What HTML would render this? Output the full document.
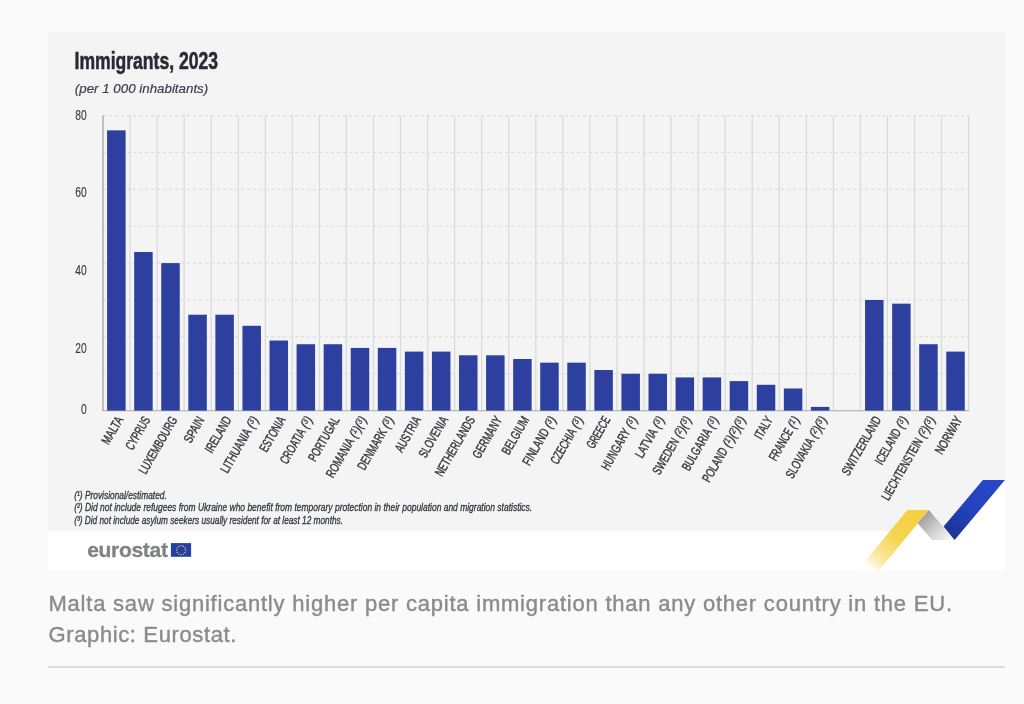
<!DOCTYPE html>
<html lang="en"><head><meta charset="utf-8"><title>Immigrants, 2023</title>
<style>
html,body{margin:0;padding:0;}
body{width:1024px;height:704px;position:relative;overflow:hidden;background:#fafafa;font-family:"Liberation Sans",sans-serif;}
svg text{font-family:"Liberation Sans",sans-serif;}
.cap{position:absolute;left:48.5px;top:589.1px;width:960px;margin:0;font-size:22px;line-height:30.8px;color:#8b8b8b;white-space:nowrap;letter-spacing:0.75px;-webkit-text-stroke:0.4px #8b8b8b;}
.rule{position:absolute;left:48px;top:666.4px;width:957px;height:1.2px;background:#dcdcdc;}
</style></head><body>
<svg width="1024" height="704" viewBox="0 0 1024 704" style="position:absolute;left:0;top:0">
<defs><linearGradient id="gy" x1="918" y1="510" x2="869" y2="569.5" gradientUnits="userSpaceOnUse"><stop offset="0" stop-color="#f5d044"/><stop offset="0.45" stop-color="#f6d34f"/><stop offset="0.8" stop-color="#fbe9a3"/><stop offset="1" stop-color="#ffffff"/></linearGradient><linearGradient id="gg" x1="922" y1="515" x2="946" y2="541" gradientUnits="userSpaceOnUse"><stop offset="0" stop-color="#9b9b9d"/><stop offset="0.5" stop-color="#cbcbcd"/><stop offset="1" stop-color="#f3f3f3"/></linearGradient><linearGradient id="gb" x1="994" y1="480" x2="950" y2="534" gradientUnits="userSpaceOnUse"><stop offset="0" stop-color="#2547c8"/><stop offset="0.55" stop-color="#2342bc"/><stop offset="1" stop-color="#1b3496"/></linearGradient></defs>
<rect x="48" y="32" width="957.6" height="538.2" fill="#f4f4f4"/>
<rect x="48" y="531" width="957.6" height="39.2" fill="#ffffff"/>
<polygon points="905,531.5 918.5,514 931,531.5" fill="#ffffff"/>
<polygon points="1005.6,479.6 1005.6,531.5 961,531.5" fill="#ffffff"/>
<line x1="103.0" x2="968.60" y1="373.73" y2="373.73" stroke="#dcdcdc" stroke-width="1.2" stroke-dasharray="3.2 2.8"/>
<line x1="103.0" x2="968.60" y1="336.85" y2="336.85" stroke="#dcdcdc" stroke-width="1.2" stroke-dasharray="3.2 2.8"/>
<line x1="103.0" x2="968.60" y1="299.98" y2="299.98" stroke="#dcdcdc" stroke-width="1.2" stroke-dasharray="3.2 2.8"/>
<line x1="103.0" x2="968.60" y1="263.10" y2="263.10" stroke="#dcdcdc" stroke-width="1.2" stroke-dasharray="3.2 2.8"/>
<line x1="103.0" x2="968.60" y1="226.23" y2="226.23" stroke="#dcdcdc" stroke-width="1.2" stroke-dasharray="3.2 2.8"/>
<line x1="103.0" x2="968.60" y1="189.35" y2="189.35" stroke="#dcdcdc" stroke-width="1.2" stroke-dasharray="3.2 2.8"/>
<line x1="103.0" x2="968.60" y1="152.48" y2="152.48" stroke="#dcdcdc" stroke-width="1.2" stroke-dasharray="3.2 2.8"/>
<line x1="103.0" x2="968.60" y1="115.60" y2="115.60" stroke="#dcdcdc" stroke-width="1.2" stroke-dasharray="3.2 2.8"/>
<line x1="130.05" x2="130.05" y1="115.60" y2="410.60" stroke="#d9d9d9" stroke-width="1.2"/>
<line x1="157.10" x2="157.10" y1="115.60" y2="410.60" stroke="#d9d9d9" stroke-width="1.2"/>
<line x1="184.15" x2="184.15" y1="115.60" y2="410.60" stroke="#d9d9d9" stroke-width="1.2"/>
<line x1="211.20" x2="211.20" y1="115.60" y2="410.60" stroke="#d9d9d9" stroke-width="1.2"/>
<line x1="238.25" x2="238.25" y1="115.60" y2="410.60" stroke="#d9d9d9" stroke-width="1.2"/>
<line x1="265.30" x2="265.30" y1="115.60" y2="410.60" stroke="#d9d9d9" stroke-width="1.2"/>
<line x1="292.35" x2="292.35" y1="115.60" y2="410.60" stroke="#d9d9d9" stroke-width="1.2"/>
<line x1="319.40" x2="319.40" y1="115.60" y2="410.60" stroke="#d9d9d9" stroke-width="1.2"/>
<line x1="346.45" x2="346.45" y1="115.60" y2="410.60" stroke="#d9d9d9" stroke-width="1.2"/>
<line x1="373.50" x2="373.50" y1="115.60" y2="410.60" stroke="#d9d9d9" stroke-width="1.2"/>
<line x1="400.55" x2="400.55" y1="115.60" y2="410.60" stroke="#d9d9d9" stroke-width="1.2"/>
<line x1="427.60" x2="427.60" y1="115.60" y2="410.60" stroke="#d9d9d9" stroke-width="1.2"/>
<line x1="454.65" x2="454.65" y1="115.60" y2="410.60" stroke="#d9d9d9" stroke-width="1.2"/>
<line x1="481.70" x2="481.70" y1="115.60" y2="410.60" stroke="#d9d9d9" stroke-width="1.2"/>
<line x1="508.75" x2="508.75" y1="115.60" y2="410.60" stroke="#d9d9d9" stroke-width="1.2"/>
<line x1="535.80" x2="535.80" y1="115.60" y2="410.60" stroke="#d9d9d9" stroke-width="1.2"/>
<line x1="562.85" x2="562.85" y1="115.60" y2="410.60" stroke="#d9d9d9" stroke-width="1.2"/>
<line x1="589.90" x2="589.90" y1="115.60" y2="410.60" stroke="#d9d9d9" stroke-width="1.2"/>
<line x1="616.95" x2="616.95" y1="115.60" y2="410.60" stroke="#d9d9d9" stroke-width="1.2"/>
<line x1="644.00" x2="644.00" y1="115.60" y2="410.60" stroke="#d9d9d9" stroke-width="1.2"/>
<line x1="671.05" x2="671.05" y1="115.60" y2="410.60" stroke="#d9d9d9" stroke-width="1.2"/>
<line x1="698.10" x2="698.10" y1="115.60" y2="410.60" stroke="#d9d9d9" stroke-width="1.2"/>
<line x1="725.15" x2="725.15" y1="115.60" y2="410.60" stroke="#d9d9d9" stroke-width="1.2"/>
<line x1="752.20" x2="752.20" y1="115.60" y2="410.60" stroke="#d9d9d9" stroke-width="1.2"/>
<line x1="779.25" x2="779.25" y1="115.60" y2="410.60" stroke="#d9d9d9" stroke-width="1.2"/>
<line x1="806.30" x2="806.30" y1="115.60" y2="410.60" stroke="#d9d9d9" stroke-width="1.2"/>
<line x1="833.35" x2="833.35" y1="115.60" y2="410.60" stroke="#d9d9d9" stroke-width="1.2"/>
<line x1="860.40" x2="860.40" y1="115.60" y2="410.60" stroke="#d9d9d9" stroke-width="1.2"/>
<line x1="887.45" x2="887.45" y1="115.60" y2="410.60" stroke="#d9d9d9" stroke-width="1.2"/>
<line x1="914.50" x2="914.50" y1="115.60" y2="410.60" stroke="#d9d9d9" stroke-width="1.2"/>
<line x1="941.55" x2="941.55" y1="115.60" y2="410.60" stroke="#d9d9d9" stroke-width="1.2"/>
<line x1="968.60" x2="968.60" y1="115.60" y2="410.60" stroke="#d9d9d9" stroke-width="1.2"/>
<line x1="103.0" x2="103.0" y1="115.60" y2="411.10" stroke="#9a9a9a" stroke-width="1.2"/>
<line x1="102.4" x2="969.10" y1="410.70" y2="410.70" stroke="#a8a8a8" stroke-width="1.1"/>
<rect x="107.10" y="130.35" width="18.5" height="280.25" fill="#2e409f"/>
<rect x="134.17" y="252.04" width="18.5" height="158.56" fill="#2e409f"/>
<rect x="161.24" y="263.10" width="18.5" height="147.50" fill="#2e409f"/>
<rect x="188.31" y="314.73" width="18.5" height="95.88" fill="#2e409f"/>
<rect x="215.38" y="314.73" width="18.5" height="95.88" fill="#2e409f"/>
<rect x="242.45" y="325.79" width="18.5" height="84.81" fill="#2e409f"/>
<rect x="269.52" y="340.54" width="18.5" height="70.06" fill="#2e409f"/>
<rect x="296.59" y="344.23" width="18.5" height="66.38" fill="#2e409f"/>
<rect x="323.66" y="344.23" width="18.5" height="66.38" fill="#2e409f"/>
<rect x="350.73" y="347.91" width="18.5" height="62.69" fill="#2e409f"/>
<rect x="377.80" y="347.91" width="18.5" height="62.69" fill="#2e409f"/>
<rect x="404.87" y="351.60" width="18.5" height="59.00" fill="#2e409f"/>
<rect x="431.94" y="351.60" width="18.5" height="59.00" fill="#2e409f"/>
<rect x="459.01" y="355.29" width="18.5" height="55.31" fill="#2e409f"/>
<rect x="486.08" y="355.29" width="18.5" height="55.31" fill="#2e409f"/>
<rect x="513.15" y="358.98" width="18.5" height="51.62" fill="#2e409f"/>
<rect x="540.22" y="362.66" width="18.5" height="47.94" fill="#2e409f"/>
<rect x="567.29" y="362.66" width="18.5" height="47.94" fill="#2e409f"/>
<rect x="594.36" y="370.04" width="18.5" height="40.56" fill="#2e409f"/>
<rect x="621.43" y="373.73" width="18.5" height="36.88" fill="#2e409f"/>
<rect x="648.50" y="373.73" width="18.5" height="36.88" fill="#2e409f"/>
<rect x="675.57" y="377.41" width="18.5" height="33.19" fill="#2e409f"/>
<rect x="702.64" y="377.41" width="18.5" height="33.19" fill="#2e409f"/>
<rect x="729.71" y="381.10" width="18.5" height="29.50" fill="#2e409f"/>
<rect x="756.78" y="384.79" width="18.5" height="25.81" fill="#2e409f"/>
<rect x="783.85" y="388.48" width="18.5" height="22.12" fill="#2e409f"/>
<rect x="810.92" y="406.91" width="18.5" height="3.69" fill="#2e409f"/>
<rect x="865.06" y="299.98" width="18.5" height="110.62" fill="#2e409f"/>
<rect x="892.13" y="303.66" width="18.5" height="106.94" fill="#2e409f"/>
<rect x="919.20" y="344.23" width="18.5" height="66.38" fill="#2e409f"/>
<rect x="946.27" y="351.60" width="18.5" height="59.00" fill="#2e409f"/>
<text x="86.6" y="119.8" text-anchor="end" font-size="14.6" fill="#3c3c40" stroke="#3c3c40" stroke-width="0.15" textLength="11.4" lengthAdjust="spacingAndGlyphs">80</text>
<text x="86.6" y="197.2" text-anchor="end" font-size="14.6" fill="#3c3c40" stroke="#3c3c40" stroke-width="0.15" textLength="11.4" lengthAdjust="spacingAndGlyphs">60</text>
<text x="86.6" y="275.1" text-anchor="end" font-size="14.6" fill="#3c3c40" stroke="#3c3c40" stroke-width="0.15" textLength="11.4" lengthAdjust="spacingAndGlyphs">40</text>
<text x="86.6" y="352.5" text-anchor="end" font-size="14.6" fill="#3c3c40" stroke="#3c3c40" stroke-width="0.15" textLength="11.4" lengthAdjust="spacingAndGlyphs">20</text>
<text x="86.6" y="414.45" text-anchor="end" font-size="14.6" fill="#3c3c40" stroke="#3c3c40" stroke-width="0.15" textLength="5.7" lengthAdjust="spacingAndGlyphs">0</text>
<g transform="translate(123.55,419.60) rotate(-60)" font-size="13.0" text-anchor="end">
<text x="0.00" y="0" fill="#37383d" stroke="#37383d" stroke-width="0.42" textLength="29.9" lengthAdjust="spacingAndGlyphs">MALTA</text>
</g>
<g transform="translate(150.62,419.60) rotate(-60)" font-size="13.0" text-anchor="end">
<text x="0.00" y="0" fill="#37383d" stroke="#37383d" stroke-width="0.42" textLength="36.3" lengthAdjust="spacingAndGlyphs">CYPRUS</text>
</g>
<g transform="translate(177.69,419.60) rotate(-60)" font-size="13.0" text-anchor="end">
<text x="0.00" y="0" fill="#37383d" stroke="#37383d" stroke-width="0.42" textLength="64.0" lengthAdjust="spacingAndGlyphs">LUXEMBOURG</text>
</g>
<g transform="translate(204.76,419.60) rotate(-60)" font-size="13.0" text-anchor="end">
<text x="0.00" y="0" fill="#37383d" stroke="#37383d" stroke-width="0.42" textLength="28.2" lengthAdjust="spacingAndGlyphs">SPAIN</text>
</g>
<g transform="translate(231.83,419.60) rotate(-60)" font-size="13.0" text-anchor="end">
<text x="0.00" y="0" fill="#37383d" stroke="#37383d" stroke-width="0.42" textLength="39.6" lengthAdjust="spacingAndGlyphs">IRELAND</text>
</g>
<g transform="translate(258.90,419.60) rotate(-60)" font-size="13.0" text-anchor="end">
<text x="-14.00" y="0" fill="#37383d" stroke="#37383d" stroke-width="0.42" textLength="48.7" lengthAdjust="spacingAndGlyphs">LITHUANIA</text>
<text x="0" y="0" fill="#37383d" stroke="#37383d" stroke-width="0.3" font-style="italic" textLength="11.0" lengthAdjust="spacingAndGlyphs">(<tspan font-size="9" dy="-3.2">3</tspan><tspan dy="3.2">)</tspan></text>
</g>
<g transform="translate(285.97,419.60) rotate(-60)" font-size="13.0" text-anchor="end">
<text x="0.00" y="0" fill="#37383d" stroke="#37383d" stroke-width="0.42" textLength="38.7" lengthAdjust="spacingAndGlyphs">ESTONIA</text>
</g>
<g transform="translate(313.04,419.60) rotate(-60)" font-size="13.0" text-anchor="end">
<text x="-14.00" y="0" fill="#37383d" stroke="#37383d" stroke-width="0.42" textLength="38.3" lengthAdjust="spacingAndGlyphs">CROATIA</text>
<text x="0" y="0" fill="#37383d" stroke="#37383d" stroke-width="0.3" font-style="italic" textLength="11.0" lengthAdjust="spacingAndGlyphs">(<tspan font-size="9" dy="-3.2">3</tspan><tspan dy="3.2">)</tspan></text>
</g>
<g transform="translate(340.11,419.60) rotate(-60)" font-size="13.0" text-anchor="end">
<text x="0.00" y="0" fill="#37383d" stroke="#37383d" stroke-width="0.42" textLength="49.5" lengthAdjust="spacingAndGlyphs">PORTUGAL</text>
</g>
<g transform="translate(367.18,419.60) rotate(-60)" font-size="13.0" text-anchor="end">
<text x="-25.00" y="0" fill="#37383d" stroke="#37383d" stroke-width="0.42" textLength="43.3" lengthAdjust="spacingAndGlyphs">ROMANIA</text>
<text x="0" y="0" fill="#37383d" stroke="#37383d" stroke-width="0.3" font-style="italic" textLength="22.0" lengthAdjust="spacingAndGlyphs">(<tspan font-size="9" dy="-3.2">1</tspan><tspan dy="3.2">)</tspan>(<tspan font-size="9" dy="-3.2">3</tspan><tspan dy="3.2">)</tspan></text>
</g>
<g transform="translate(394.25,419.60) rotate(-60)" font-size="13.0" text-anchor="end">
<text x="-14.00" y="0" fill="#37383d" stroke="#37383d" stroke-width="0.42" textLength="45.3" lengthAdjust="spacingAndGlyphs">DENMARK</text>
<text x="0" y="0" fill="#37383d" stroke="#37383d" stroke-width="0.3" font-style="italic" textLength="11.0" lengthAdjust="spacingAndGlyphs">(<tspan font-size="9" dy="-3.2">3</tspan><tspan dy="3.2">)</tspan></text>
</g>
<g transform="translate(421.32,419.60) rotate(-60)" font-size="13.0" text-anchor="end">
<text x="0.00" y="0" fill="#37383d" stroke="#37383d" stroke-width="0.42" textLength="38.8" lengthAdjust="spacingAndGlyphs">AUSTRIA</text>
</g>
<g transform="translate(448.39,419.60) rotate(-60)" font-size="13.0" text-anchor="end">
<text x="0.00" y="0" fill="#37383d" stroke="#37383d" stroke-width="0.42" textLength="45.1" lengthAdjust="spacingAndGlyphs">SLOVENIA</text>
</g>
<g transform="translate(475.46,419.60) rotate(-60)" font-size="13.0" text-anchor="end">
<text x="0.00" y="0" fill="#37383d" stroke="#37383d" stroke-width="0.42" textLength="66.7" lengthAdjust="spacingAndGlyphs">NETHERLANDS</text>
</g>
<g transform="translate(502.53,419.60) rotate(-60)" font-size="13.0" text-anchor="end">
<text x="0.00" y="0" fill="#37383d" stroke="#37383d" stroke-width="0.42" textLength="46.0" lengthAdjust="spacingAndGlyphs">GERMANY</text>
</g>
<g transform="translate(529.60,419.60) rotate(-60)" font-size="13.0" text-anchor="end">
<text x="0.00" y="0" fill="#37383d" stroke="#37383d" stroke-width="0.42" textLength="41.7" lengthAdjust="spacingAndGlyphs">BELGIUM</text>
</g>
<g transform="translate(556.67,419.60) rotate(-60)" font-size="13.0" text-anchor="end">
<text x="-14.00" y="0" fill="#37383d" stroke="#37383d" stroke-width="0.42" textLength="40.3" lengthAdjust="spacingAndGlyphs">FINLAND</text>
<text x="0" y="0" fill="#37383d" stroke="#37383d" stroke-width="0.3" font-style="italic" textLength="11.0" lengthAdjust="spacingAndGlyphs">(<tspan font-size="9" dy="-3.2">3</tspan><tspan dy="3.2">)</tspan></text>
</g>
<g transform="translate(583.74,419.60) rotate(-60)" font-size="13.0" text-anchor="end">
<text x="-14.00" y="0" fill="#37383d" stroke="#37383d" stroke-width="0.42" textLength="38.6" lengthAdjust="spacingAndGlyphs">CZECHIA</text>
<text x="0" y="0" fill="#37383d" stroke="#37383d" stroke-width="0.3" font-style="italic" textLength="11.0" lengthAdjust="spacingAndGlyphs">(<tspan font-size="9" dy="-3.2">3</tspan><tspan dy="3.2">)</tspan></text>
</g>
<g transform="translate(610.81,419.60) rotate(-60)" font-size="13.0" text-anchor="end">
<text x="0.00" y="0" fill="#37383d" stroke="#37383d" stroke-width="0.42" textLength="34.6" lengthAdjust="spacingAndGlyphs">GREECE</text>
</g>
<g transform="translate(637.88,419.60) rotate(-60)" font-size="13.0" text-anchor="end">
<text x="-14.00" y="0" fill="#37383d" stroke="#37383d" stroke-width="0.42" textLength="45.5" lengthAdjust="spacingAndGlyphs">HUNGARY</text>
<text x="0" y="0" fill="#37383d" stroke="#37383d" stroke-width="0.3" font-style="italic" textLength="11.0" lengthAdjust="spacingAndGlyphs">(<tspan font-size="9" dy="-3.2">3</tspan><tspan dy="3.2">)</tspan></text>
</g>
<g transform="translate(664.95,419.60) rotate(-60)" font-size="13.0" text-anchor="end">
<text x="-14.00" y="0" fill="#37383d" stroke="#37383d" stroke-width="0.42" textLength="31.5" lengthAdjust="spacingAndGlyphs">LATVIA</text>
<text x="0" y="0" fill="#37383d" stroke="#37383d" stroke-width="0.3" font-style="italic" textLength="11.0" lengthAdjust="spacingAndGlyphs">(<tspan font-size="9" dy="-3.2">3</tspan><tspan dy="3.2">)</tspan></text>
</g>
<g transform="translate(692.02,419.60) rotate(-60)" font-size="13.0" text-anchor="end">
<text x="-25.00" y="0" fill="#37383d" stroke="#37383d" stroke-width="0.42" textLength="39.8" lengthAdjust="spacingAndGlyphs">SWEDEN</text>
<text x="0" y="0" fill="#37383d" stroke="#37383d" stroke-width="0.3" font-style="italic" textLength="22.0" lengthAdjust="spacingAndGlyphs">(<tspan font-size="9" dy="-3.2">2</tspan><tspan dy="3.2">)</tspan>(<tspan font-size="9" dy="-3.2">3</tspan><tspan dy="3.2">)</tspan></text>
</g>
<g transform="translate(719.09,419.60) rotate(-60)" font-size="13.0" text-anchor="end">
<text x="-14.00" y="0" fill="#37383d" stroke="#37383d" stroke-width="0.42" textLength="46.3" lengthAdjust="spacingAndGlyphs">BULGARIA</text>
<text x="0" y="0" fill="#37383d" stroke="#37383d" stroke-width="0.3" font-style="italic" textLength="11.0" lengthAdjust="spacingAndGlyphs">(<tspan font-size="9" dy="-3.2">3</tspan><tspan dy="3.2">)</tspan></text>
</g>
<g transform="translate(746.16,419.60) rotate(-60)" font-size="13.0" text-anchor="end">
<text x="-36.00" y="0" fill="#37383d" stroke="#37383d" stroke-width="0.42" textLength="37.6" lengthAdjust="spacingAndGlyphs">POLAND</text>
<text x="0" y="0" fill="#37383d" stroke="#37383d" stroke-width="0.3" font-style="italic" textLength="33.0" lengthAdjust="spacingAndGlyphs">(<tspan font-size="9" dy="-3.2">1</tspan><tspan dy="3.2">)</tspan>(<tspan font-size="9" dy="-3.2">2</tspan><tspan dy="3.2">)</tspan>(<tspan font-size="9" dy="-3.2">3</tspan><tspan dy="3.2">)</tspan></text>
</g>
<g transform="translate(773.23,419.60) rotate(-60)" font-size="13.0" text-anchor="end">
<text x="0.00" y="0" fill="#37383d" stroke="#37383d" stroke-width="0.42" textLength="23.8" lengthAdjust="spacingAndGlyphs">ITALY</text>
</g>
<g transform="translate(800.30,419.60) rotate(-60)" font-size="13.0" text-anchor="end">
<text x="-14.00" y="0" fill="#37383d" stroke="#37383d" stroke-width="0.42" textLength="34.8" lengthAdjust="spacingAndGlyphs">FRANCE</text>
<text x="0" y="0" fill="#37383d" stroke="#37383d" stroke-width="0.3" font-style="italic" textLength="11.0" lengthAdjust="spacingAndGlyphs">(<tspan font-size="9" dy="-3.2">1</tspan><tspan dy="3.2">)</tspan></text>
</g>
<g transform="translate(827.37,419.60) rotate(-60)" font-size="13.0" text-anchor="end">
<text x="-25.00" y="0" fill="#37383d" stroke="#37383d" stroke-width="0.42" textLength="44.3" lengthAdjust="spacingAndGlyphs">SLOVAKIA</text>
<text x="0" y="0" fill="#37383d" stroke="#37383d" stroke-width="0.3" font-style="italic" textLength="22.0" lengthAdjust="spacingAndGlyphs">(<tspan font-size="9" dy="-3.2">2</tspan><tspan dy="3.2">)</tspan>(<tspan font-size="9" dy="-3.2">3</tspan><tspan dy="3.2">)</tspan></text>
</g>
<g transform="translate(881.51,419.60) rotate(-60)" font-size="13.0" text-anchor="end">
<text x="0.00" y="0" fill="#37383d" stroke="#37383d" stroke-width="0.42" textLength="65.7" lengthAdjust="spacingAndGlyphs">SWITZERLAND</text>
</g>
<g transform="translate(908.58,419.60) rotate(-60)" font-size="13.0" text-anchor="end">
<text x="-14.00" y="0" fill="#37383d" stroke="#37383d" stroke-width="0.42" textLength="39.3" lengthAdjust="spacingAndGlyphs">ICELAND</text>
<text x="0" y="0" fill="#37383d" stroke="#37383d" stroke-width="0.3" font-style="italic" textLength="11.0" lengthAdjust="spacingAndGlyphs">(<tspan font-size="9" dy="-3.2">3</tspan><tspan dy="3.2">)</tspan></text>
</g>
<g transform="translate(935.65,419.60) rotate(-60)" font-size="13.0" text-anchor="end">
<text x="-25.00" y="0" fill="#37383d" stroke="#37383d" stroke-width="0.42" textLength="69.3" lengthAdjust="spacingAndGlyphs">LIECHTENSTEIN</text>
<text x="0" y="0" fill="#37383d" stroke="#37383d" stroke-width="0.3" font-style="italic" textLength="22.0" lengthAdjust="spacingAndGlyphs">(<tspan font-size="9" dy="-3.2">2</tspan><tspan dy="3.2">)</tspan>(<tspan font-size="9" dy="-3.2">3</tspan><tspan dy="3.2">)</tspan></text>
</g>
<g transform="translate(962.72,419.60) rotate(-60)" font-size="13.0" text-anchor="end">
<text x="0.00" y="0" fill="#37383d" stroke="#37383d" stroke-width="0.42" textLength="41.2" lengthAdjust="spacingAndGlyphs">NORWAY</text>
</g>
<text x="74.5" y="69.2" font-size="23.6" font-weight="bold" fill="#272b37" stroke="#272b37" stroke-width="0.55" textLength="143.6" lengthAdjust="spacingAndGlyphs">Immigrants, 2023</text>
<text x="74.8" y="93" font-size="13.2" font-style="italic" fill="#3a3e47" stroke="#3a3e47" stroke-width="0.2" textLength="133.4" lengthAdjust="spacingAndGlyphs">(per 1 000 inhabitants)</text>
<text x="74.2" y="498.6" font-size="10.5" font-style="italic" fill="#33373f" stroke="#33373f" stroke-width="0.3" textLength="92.6" lengthAdjust="spacingAndGlyphs">(¹) Provisional/estimated.</text>
<text x="74.2" y="511.0" font-size="10.5" font-style="italic" fill="#33373f" stroke="#33373f" stroke-width="0.3" textLength="458" lengthAdjust="spacingAndGlyphs">(²) Did not include refugees from Ukraine who benefit from temporary protection in their population and migration statistics.</text>
<text x="74.2" y="523.5" font-size="10.5" font-style="italic" fill="#33373f" stroke="#33373f" stroke-width="0.3" textLength="268.8" lengthAdjust="spacingAndGlyphs">(³) Did not include asylum seekers usually resident for at least 12 months.</text>
<text x="87.2" y="557.0" font-size="21" font-weight="bold" fill="#808286" stroke="#808286" stroke-width="0.3" letter-spacing="-0.35" textLength="80.4" lengthAdjust="spacingAndGlyphs">eurostat</text>
<rect x="170.9" y="543.1" width="20.2" height="13.7" fill="#2240a6"/>
<circle cx="181.10" cy="545.70" r="0.72" fill="#dcc35c"/>
<circle cx="183.35" cy="546.30" r="0.72" fill="#dcc35c"/>
<circle cx="185.00" cy="547.95" r="0.72" fill="#dcc35c"/>
<circle cx="185.60" cy="550.20" r="0.72" fill="#dcc35c"/>
<circle cx="185.00" cy="552.45" r="0.72" fill="#dcc35c"/>
<circle cx="183.35" cy="554.10" r="0.72" fill="#dcc35c"/>
<circle cx="181.10" cy="554.70" r="0.72" fill="#dcc35c"/>
<circle cx="178.85" cy="554.10" r="0.72" fill="#dcc35c"/>
<circle cx="177.20" cy="552.45" r="0.72" fill="#dcc35c"/>
<circle cx="176.60" cy="550.20" r="0.72" fill="#dcc35c"/>
<circle cx="177.20" cy="547.95" r="0.72" fill="#dcc35c"/>
<circle cx="178.85" cy="546.30" r="0.72" fill="#dcc35c"/>
<polygon points="907.3,509.9 928.8,509.9 879.2,570.2 857.7,570.2" fill="url(#gy)"/>
<polygon points="928.8,509.9 954.6,540.1 932.2,540.1 917.6,523.3" fill="url(#gg)"/>
<polygon points="982.9,480 1004.9,480 954.6,540.1 943.6,526.6" fill="url(#gb)"/>
</svg>
<p class="cap"><span id="c1" style="letter-spacing:0.78px">Malta saw significantly higher per capita immigration than any other country in the EU.</span><br><span id="c2" style="letter-spacing:0.62px">Graphic: Eurostat.</span></p>
<div class="rule"></div>
</body></html>
